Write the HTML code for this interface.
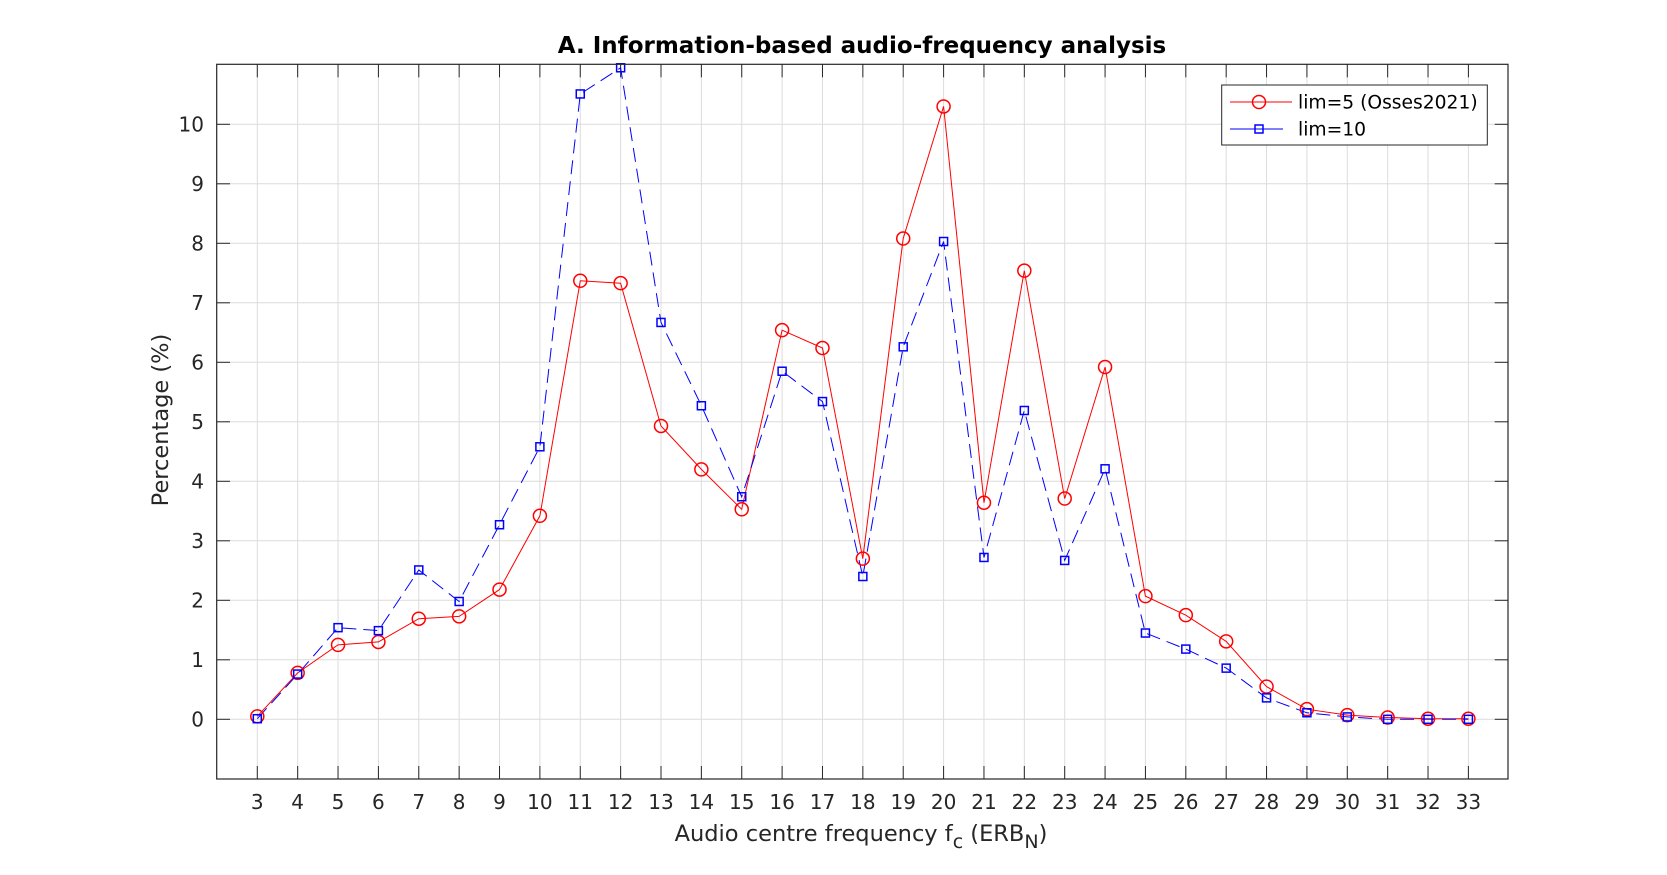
<!DOCTYPE html>
<html><head><meta charset="utf-8"><style>html,body{margin:0;padding:0;background:#fff}svg{display:block}</style></head>
<body>
<svg id="s" width="1667" height="875" xmlns="http://www.w3.org/2000/svg" font-family="'DejaVu Sans','Liberation Sans',sans-serif">
<rect width="1667" height="875" fill="#fff"/>
<g id="grid"></g>
<g id="ticks"></g>
<g id="series"></g>
<rect x="216.7" y="64.3" width="1291.3" height="714.7" fill="none" stroke="#262626" stroke-width="1.2"/>
<text x="862" y="53" text-anchor="middle" font-weight="bold" font-size="23" fill="#000">A. Information-based audio-frequency analysis</text>
<text x="861" y="841" text-anchor="middle" font-size="22.5" fill="#262626">Audio centre frequency f<tspan dy="7" font-size="19">c</tspan><tspan dy="-7"> (ERB</tspan><tspan dy="7" font-size="19">N</tspan><tspan dy="-7">)</tspan></text>
<text transform="translate(168,420) rotate(-90)" text-anchor="middle" font-size="22.5" fill="#262626">Percentage (%)</text>
<g>
<rect x="1221.7" y="85" width="265.6" height="60" fill="#fff" stroke="#262626" stroke-width="1"/>
<line x1="1230" y1="102" x2="1292" y2="102" stroke="#f00" stroke-width="1"/>
<circle cx="1259" cy="102" r="6.5" fill="none" stroke="#f00" stroke-width="1.5"/>
<text x="1298" y="108.5" font-size="18.7" fill="#000">lim=5 (Osses2021)</text>
<line x1="1230" y1="129" x2="1283" y2="129" stroke="#00f" stroke-width="1"/>
<rect x="1255" y="125" width="8" height="8" fill="none" stroke="#00f" stroke-width="1.5"/>
<text x="1298" y="135.5" font-size="18.7" fill="#000">lim=10</text>
</g>
</svg>
<script>
const NS="http://www.w3.org/2000/svg";
const X=v=>257.3+(v-3)*40.37, Y=v=>719.3-v*59.5;
function el(p,t,a,txt){const e=document.createElementNS(NS,t);for(const k in a)e.setAttribute(k,a[k]);if(txt!==undefined)e.textContent=txt;document.getElementById(p).appendChild(e);return e;}
for(let i=3;i<=33;i++){const x=X(i);
 el('grid','line',{x1:x,y1:64.3,x2:x,y2:779,stroke:'#dcdcdc','stroke-width':1});
 el('ticks','line',{x1:x,y1:779,x2:x,y2:766,stroke:'#262626','stroke-width':1});
 el('ticks','line',{x1:x,y1:64.3,x2:x,y2:77.3,stroke:'#262626','stroke-width':1});
 el('ticks','text',{x:x,y:809,'text-anchor':'middle','font-size':20,fill:'#262626'},String(i));}
for(let v=0;v<=10;v++){const y=Y(v);
 el('grid','line',{x1:216.7,y1:y,x2:1508,y2:y,stroke:'#dcdcdc','stroke-width':1});
 el('ticks','line',{x1:216.7,y1:y,x2:230,y2:y,stroke:'#262626','stroke-width':1});
 el('ticks','line',{x1:1508,y1:y,x2:1494.7,y2:y,stroke:'#262626','stroke-width':1});
 el('ticks','text',{x:204,y:y+7,'text-anchor':'end','font-size':20,fill:'#262626'},String(v));}
const red=[0.05,0.78,1.25,1.3,1.69,1.73,2.18,3.42,7.37,7.33,4.93,4.2,3.53,6.54,6.24,2.7,8.08,10.3,3.64,7.54,3.71,5.92,2.07,1.75,1.31,0.55,0.17,0.07,0.03,0.01,0.01];
const blue=[0.01,0.76,1.54,1.49,2.51,1.98,3.27,4.58,10.51,10.95,6.67,5.27,3.74,5.85,5.34,2.4,6.26,8.03,2.72,5.19,2.67,4.21,1.45,1.18,0.86,0.36,0.11,0.04,0.0,0.0,0.0];
const pts=a=>a.map((v,i)=>X(i+3).toFixed(1)+','+Y(v).toFixed(1)).join(' ');
el('series','polyline',{points:pts(red),fill:'none',stroke:'#f00','stroke-width':1});
el('series','polyline',{points:pts(blue),fill:'none',stroke:'#00f','stroke-width':1,'stroke-dasharray':'14,7'});
red.forEach((v,i)=>el('series','circle',{cx:X(i+3),cy:Y(v),r:6.5,fill:'none',stroke:'#f00','stroke-width':1.5}));
blue.forEach((v,i)=>el('series','rect',{x:X(i+3)-4,y:Y(v)-4,width:8,height:8,fill:'none',stroke:'#00f','stroke-width':1.5}));
</script>
</body></html>
